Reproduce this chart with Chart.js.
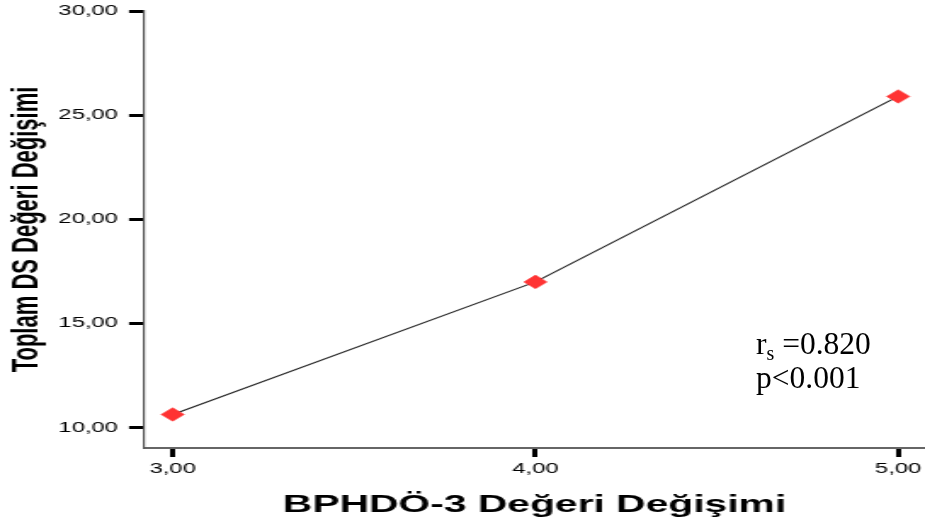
<!DOCTYPE html>
<html>
<head>
<meta charset="utf-8">
<script src="https://cdn.jsdelivr.net/npm/chart.js@4.4.1/dist/chart.umd.min.js"></script>
<style>
  html, body { margin: 0; padding: 0; background: #fff; overflow: hidden; }
  #stage { position: relative; width: 925px; height: 526px; }
  #wrap { position: absolute; left: 0; top: 0; width: 544px; height: 526px;
          transform: scaleX(1.70037); transform-origin: 0 0; }
  .stat { position: absolute; left: 756px; font-family: "Liberation Serif", "Times New Roman", serif;
          font-size: 31.5px; line-height: 34px; color: #000; white-space: nowrap; }
  .stat .sub { font-size: 20px; position: relative; top: 6px; }
</style>
</head>
<body>
<div id="stage">
  <div id="wrap"><canvas id="c" width="544" height="526"></canvas></div>
  <div class="stat" style="top:327px;">r<span class="sub">s</span> =0.820</div>
  <div class="stat" style="top:361px;">p&lt;0.001</div>
</div>
<script>
// ---- data ----
const xValues = [3, 4, 5];                 // BPHDÖ-3 Değeri Değişimi
const yValues = [10.64, 17.0, 25.9];       // Toplam DS Değeri Değişimi
const xTicks = [3, 4, 5];
const yTicks = [10, 15, 20, 25, 30];
const xTitle = "BPHDÖ-3 Değeri Değişimi";
const yTitle = "Toplam DS Değeri Değişimi";

const fmt = v => Number(v).toFixed(2).replace('.', ',');

const points = xValues.map((x, i) => ({ x: x, y: yValues[i] }));

const STRETCH = 1.70037;
const tickFont = { family: "'Liberation Sans', Arial, sans-serif", size: 14, weight: 'normal' };

new Chart(document.getElementById('c'), {
  type: 'scatter',
  data: {
    datasets: [{
      data: points,
      showLine: true,
      borderColor: '#222',
      borderWidth: 1.1,
      tension: 0,
      clip: false,
      pointStyle: 'rectRot',
      pointRadius: 6.8,
      pointHoverRadius: 6.8,
      pointBackgroundColor: '#ff3333',
      pointBorderColor: '#ff3333',
      pointBorderWidth: 0.5
    }]
  },
  options: {
    responsive: false,
    animation: false,
    devicePixelRatio: 1,
    layout: { autoPadding: false, padding: { top: 11, right: 0, bottom: 0, left: 0 } },
    plugins: { legend: { display: false }, tooltip: { enabled: false } },
    scales: {
      x: {
        type: 'linear',
        min: 2.921,
        max: 5.074,
        afterBuildTicks: s => { s.ticks = xTicks.map(v => ({ value: v })); },
        afterFit: s => { s.height = 78; s.paddingLeft = 0; s.paddingRight = 0; },
        ticks: { color: '#000', font: tickFont, padding: 4, maxRotation: 0, autoSkip: false,
                 callback: v => fmt(v) },
        grid: { drawOnChartArea: false, drawTicks: true, tickLength: 9, tickWidth: 3, tickColor: '#000' },
        border: { display: true, color: '#666', width: 2 },
        title: { display: true, text: xTitle, color: '#000',
                 font: { family: "'Liberation Sans', Arial, sans-serif", size: 24, weight: 'bold' },
                 padding: { top: 0, bottom: 6 } }
      },
      y: {
        type: 'linear',
        min: 9.03,
        max: 30,
        afterBuildTicks: s => { s.ticks = yTicks.map(v => ({ value: v })); },
        afterFit: s => { s.width = 144 / STRETCH; s.paddingTop = 0; s.paddingBottom = 0; },
        ticks: { color: '#000', font: tickFont, padding: 6.5, autoSkip: false,
                 callback: v => fmt(v) },
        grid: { drawOnChartArea: false, drawTicks: true, tickLength: 8.8, tickWidth: 3, tickColor: '#000' },
        border: { display: true, color: '#555', width: 1.2 },
        title: { display: true, text: yTitle, color: '#000',
                 font: { family: "'Liberation Sans', Arial, sans-serif", size: 22, weight: 'bold' },
                 padding: { top: 2.5, bottom: 0 } }
      }
    }
  }
});
</script>
</body>
</html>
